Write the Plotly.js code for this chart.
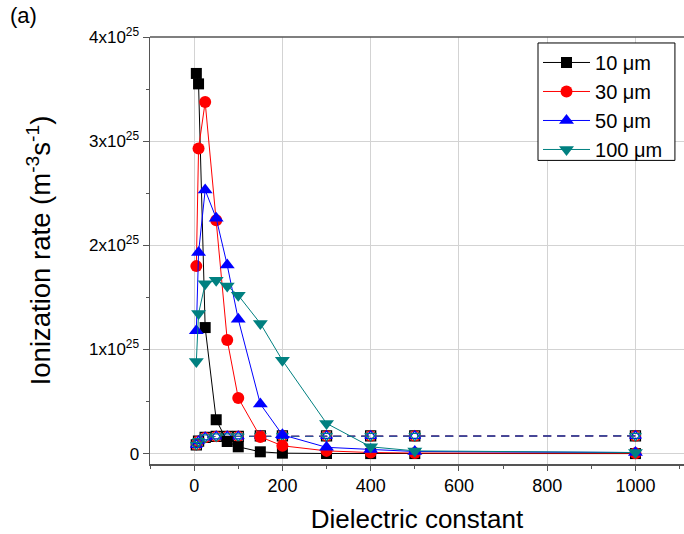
<!DOCTYPE html>
<html>
<head>
<meta charset="utf-8">
<script src="https://cdn.plot.ly/plotly-3.0.1.min.js"></script>
<style>body{margin:0;padding:0;background:#fff}#chart{width:684px;height:534px}</style>
</head>
<body>
<div id="chart"></div>
<script>
// Dielectric constant values
const dielectric = [5, 10, 25, 50, 75, 100, 150, 200, 300, 400, 500, 1000];
// Ionization rate (x10^25 m^-3 s^-1)
const rate10um  = [3.65, 3.55, 1.21, 0.325, 0.116, 0.065, 0.017, 0.004, 0.001, 0.0, 0.0, 0.0];
const rate30um  = [1.80, 2.93, 3.375, 2.24, 1.09, 0.534, 0.16, 0.075, 0.026, 0.01, 0.005, 0.004];
const rate50um  = [1.18, 1.93, 2.53, 2.26, 1.81, 1.29, 0.476, 0.18, 0.06, 0.04, 0.02, 0.01];
const rate100um = [0.885, 1.345, 1.63, 1.665, 1.61, 1.52, 1.25, 0.895, 0.29, 0.065, 0.026, 0.01];
// Open-symbol (dashed) series, nearly identical for all sizes
const rateOpen  = [0.084, 0.12, 0.155, 0.165, 0.165, 0.165, 0.17, 0.17, 0.17, 0.17, 0.17, 0.17];
const seriesNames = ['10 μm', '30 μm', '50 μm', '100 μm'];
const yTickVals = [0, 1, 2, 3, 4];
const yTickText = ['0', '1x10<sup>25</sup>', '2x10<sup>25</sup>', '3x10<sup>25</sup>', '4x10<sup>25</sup>'];
const xTickVals = [0, 200, 400, 600, 800, 1000];

const scale = 1e25;
const toAbs = a => a.map(v => v * scale);

const colors = ['#000000', '#ff0000', '#0000ff', '#008080'];
const filledSymbols = ['square', 'circle', 'triangle-up', 'triangle-down'];
const openSymbols = ['square-open', 'circle-open', 'triangle-up-open', 'triangle-down-open'];
const sizes = [11, 12, 13, 13];
const data = [rate10um, rate30um, rate50um, rate100um];

const traces = [];
for (let i = 0; i < 4; i++) {
  traces.push({
    x: dielectric, y: toAbs(rateOpen), type: 'scatter', mode: 'lines+markers',
    showlegend: false, hoverinfo: 'skip',
    line: {color: i === 0 ? '#000000' : (i === 3 ? '#2f6f8f' : colors[i]), width: 1, dash: '8px,6px'},
    marker: {symbol: openSymbols[i], size: 10, color: colors[i], line: {width: 1.3, color: colors[i]}}
  });
}
for (let i = 0; i < 4; i++) {
  traces.push({
    x: dielectric, y: toAbs(data[i]), type: 'scatter', mode: 'lines+markers',
    name: seriesNames[i],
    line: {color: colors[i], width: 1},
    marker: {symbol: filledSymbols[i], size: sizes[i], color: colors[i], line: {width: 0}}
  });
}

const layout = {
  width: 684, height: 534,
  margin: {l: 150, r: 0, t: 37, b: 70},
  paper_bgcolor: '#ffffff', plot_bgcolor: '#ffffff',
  font: {family: 'Liberation Sans, Arial, sans-serif', color: '#000000', size: 16},
  showlegend: true,
  legend: {
    x: 0.7266, y: 0.986, xanchor: 'left', yanchor: 'top',
    bgcolor: 'rgba(0,0,0,0)', borderwidth: 0,
    font: {size: 20, family: 'Liberation Sans, Arial, sans-serif'},
    tracegroupgap: 0, itemwidth: 47
  },
  xaxis: {
    range: [-100, 1110],
    tickvals: xTickVals, ticktext: xTickVals.map(String),
    ticks: 'outside', ticklen: 5, tickcolor: '#555555',
    minor: {dtick: 100, tick0: 0, ticks: 'outside', ticklen: 3, tickcolor: '#555555', showgrid: false},
    showgrid: true, gridcolor: '#d3d3d3', gridwidth: 1,
    zeroline: false,
    showline: true, linecolor: '#555555', linewidth: 1.5, mirror: false,
    tickfont: {size: 18},
    title: {text: 'Dielectric constant', font: {size: 26}, standoff: 23}
  },
  yaxis: {
    range: [-0.1e25, 4e25],
    tickvals: yTickVals.map(v => v * scale), ticktext: yTickText,
    ticks: 'outside', ticklen: 6, tickcolor: '#555555',
    minor: {dtick: 0.5e25, tick0: 0, ticks: 'outside', ticklen: 3, tickcolor: '#555555', showgrid: false},
    showgrid: true, gridcolor: '#d3d3d3', gridwidth: 1,
    zeroline: false,
    showline: true, linecolor: '#555555', linewidth: 1.5,
    tickfont: {size: 17},
    ticklabelstandoff: 0,
    title: {text: 'Ionization rate (m<sup>-3</sup>s<sup>-1</sup>)', font: {size: 27.5}, standoff: 30}
  },
  shapes: [
    {type: 'line', xref: 'paper', yref: 'paper', x0: 0, x1: 1, y0: 1, y1: 1, line: {color: '#555555', width: 1.5}},
    {type: 'rect', xref: 'paper', yref: 'paper', x0: 0.7266, x1: 0.983, y0: 0.711, y1: 0.986,
     fillcolor: '#ffffff', line: {color: '#000000', width: 1}, layer: 'above'}
  ],
  annotations: [
    {text: '(a)', xref: 'paper', yref: 'paper', x: -0.266, y: 1.084, xanchor: 'left', yanchor: 'top',
     showarrow: false, font: {size: 22}}
  ]
};

Plotly.newPlot('chart', traces, layout, {displayModeBar: false, staticPlot: true});
</script>
</body>
</html>
